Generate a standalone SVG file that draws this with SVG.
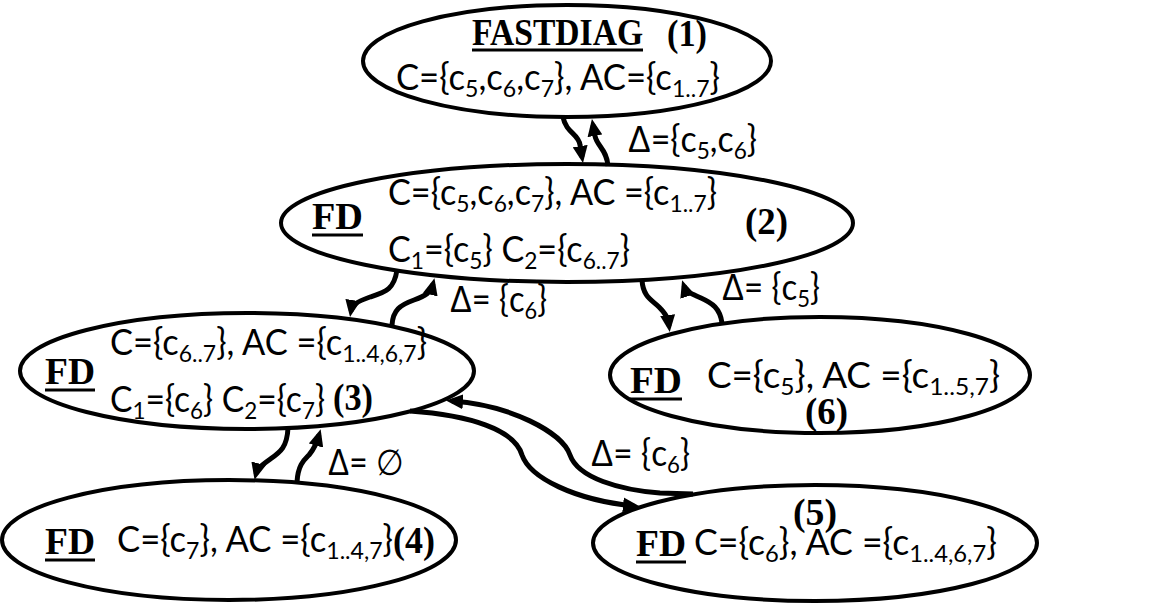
<svg xmlns="http://www.w3.org/2000/svg" width="1163" height="611" viewBox="0 0 1163 611">
<style>
.e{fill:#fff;stroke:#000;stroke-width:4}
.t{font-family:Lato,"Liberation Sans",sans-serif;font-size:36px;fill:#000}
.s{font-size:24px}
.b{font-family:"Liberation Serif",serif;font-weight:bold;font-size:38px;fill:#000}
.u{stroke:#000;stroke-width:3}
.a{fill:none;stroke:#000;stroke-width:5}
.g{font-family:"Liberation Sans",sans-serif;font-weight:normal}
</style>
<defs>
<marker id="ah" markerUnits="userSpaceOnUse" markerWidth="17" markerHeight="15" refX="11" refY="7.5" orient="auto">
<path d="M0,0 L17,7.5 L0,15 z" fill="#000"/>
</marker>
</defs>
<rect width="1163" height="611" fill="#fff"/>

<g id="node1">
<ellipse class="e" cx="567" cy="61" rx="204" ry="56"/>
<text class="b" x="472" y="45" textLength="171" lengthAdjust="spacingAndGlyphs" font-size="34">FASTDIAG</text>
<line class="u" x1="472" y1="50" x2="643" y2="50"/>
<text class="b" x="667" y="46" textLength="40" lengthAdjust="spacingAndGlyphs">(1)</text>
<text class="t" x="396" y="90" textLength="324" lengthAdjust="spacingAndGlyphs">C={c<tspan class="s" dy="7">5</tspan><tspan dy="-7">,c</tspan><tspan class="s" dy="7">6</tspan><tspan dy="-7">,c</tspan><tspan class="s" dy="7">7</tspan><tspan dy="-7">}, AC={c</tspan><tspan class="s" dy="7">1..7</tspan><tspan dy="-7">}</tspan></text>
</g>

<g id="node2">
<ellipse class="e" cx="567" cy="223" rx="286" ry="59"/>
<text class="t" x="388" y="205" textLength="329" lengthAdjust="spacingAndGlyphs">C={c<tspan class="s" dy="7">5</tspan><tspan dy="-7">,c</tspan><tspan class="s" dy="7">6</tspan><tspan dy="-7">,c</tspan><tspan class="s" dy="7">7</tspan><tspan dy="-7">}, AC ={c</tspan><tspan class="s" dy="7">1..7</tspan><tspan dy="-7">}</tspan></text>
<text class="b" x="312" y="229" textLength="51" lengthAdjust="spacingAndGlyphs">FD</text>
<line class="u" x1="312" y1="235" x2="363" y2="235"/>
<text class="t" x="388" y="262" textLength="242" lengthAdjust="spacingAndGlyphs">C<tspan class="s" dy="7">1</tspan><tspan dy="-7">={c</tspan><tspan class="s" dy="7">5</tspan><tspan dy="-7">} C</tspan><tspan class="s" dy="7">2</tspan><tspan dy="-7">={c</tspan><tspan class="s" dy="7">6..7</tspan><tspan dy="-7">}</tspan></text>
<text class="b" x="745" y="234" textLength="43" lengthAdjust="spacingAndGlyphs">(2)</text>
</g>

<g id="node3">
<ellipse class="e" cx="247" cy="371" rx="227" ry="58"/>
<text class="t" x="110" y="355" textLength="317" lengthAdjust="spacingAndGlyphs">C={c<tspan class="s" dy="7">6..7</tspan><tspan dy="-7">}, AC ={c</tspan><tspan class="s" dy="7">1..4,6,7</tspan><tspan dy="-7">}</tspan></text>
<text class="b" x="45" y="384" textLength="50" lengthAdjust="spacingAndGlyphs">FD</text>
<line class="u" x1="45" y1="390" x2="95" y2="390"/>
<text class="t" x="110" y="412" textLength="215" lengthAdjust="spacingAndGlyphs">C<tspan class="s" dy="7">1</tspan><tspan dy="-7">={c</tspan><tspan class="s" dy="7">6</tspan><tspan dy="-7">} C</tspan><tspan class="s" dy="7">2</tspan><tspan dy="-7">={c</tspan><tspan class="s" dy="7">7</tspan><tspan dy="-7">}</tspan></text>
<text class="b" x="333" y="410" textLength="40" lengthAdjust="spacingAndGlyphs">(3)</text>
</g>

<g id="node4">
<ellipse class="e" cx="229" cy="540" rx="227" ry="60"/>
<text class="b" x="45" y="554" textLength="50" lengthAdjust="spacingAndGlyphs">FD</text>
<line class="u" x1="45" y1="560" x2="95" y2="560"/>
<text class="t" x="117" y="552" textLength="276" lengthAdjust="spacingAndGlyphs">C={c<tspan class="s" dy="7">7</tspan><tspan dy="-7">}, AC ={c</tspan><tspan class="s" dy="7">1..4,7</tspan><tspan dy="-7">}</tspan></text>
<text class="b" x="393" y="553" textLength="42" lengthAdjust="spacingAndGlyphs">(4)</text>
</g>

<g id="node5">
<ellipse class="e" cx="815" cy="543" rx="222" ry="58"/>
<text class="b" x="636" y="556" textLength="50" lengthAdjust="spacingAndGlyphs">FD</text>
<line class="u" x1="636" y1="562" x2="686" y2="562"/>
<text class="t" x="694" y="555" textLength="303" lengthAdjust="spacingAndGlyphs">C={c<tspan class="s" dy="7">6</tspan><tspan dy="-7">}, AC ={c</tspan><tspan class="s" dy="7">1..4,6,7</tspan><tspan dy="-7">}</tspan></text>
<text class="b" x="793" y="525" textLength="44" lengthAdjust="spacingAndGlyphs">(5)</text>
</g>

<g id="node6">
<ellipse class="e" cx="820" cy="375" rx="210" ry="58"/>
<text class="b" x="630" y="393" textLength="52" lengthAdjust="spacingAndGlyphs">FD</text>
<line class="u" x1="630" y1="399" x2="682" y2="399"/>
<text class="t" x="707" y="388" textLength="293" lengthAdjust="spacingAndGlyphs">C={c<tspan class="s" dy="7">5</tspan><tspan dy="-7">}, AC ={c</tspan><tspan class="s" dy="7">1..5,7</tspan><tspan dy="-7">}</tspan></text>
<text class="b" x="805" y="424" textLength="43" lengthAdjust="spacingAndGlyphs">(6)</text>
</g>

<g id="connectors">
<path class="a" marker-end="url(#ah)" d="M563,117 C566,133 579,134 580,145 L582,157"/>
<path class="a" marker-end="url(#ah)" d="M608,166 C607,150 597,146 595,136 L593,125"/>
<path class="a" marker-end="url(#ah)" d="M397,270 C394,290 385,292 370,297 C356,302 352,305 351,311"/>
<path class="a" marker-end="url(#ah)" d="M392,325 C393,310 400,305 414,300 C426,296 431,292 433,284"/>
<path class="a" marker-end="url(#ah)" d="M642,280 C643,297 652,300 659,307 C666,314 668,318 669,326"/>
<path class="a" marker-end="url(#ah)" d="M722,323 C720,308 712,303 701,298 C690,293 686,292 684,286"/>
<path class="a" marker-end="url(#ah)" d="M288,428 C287,448 280,452 269,460 C259,467 257,470 256,474"/>
<path class="a" marker-end="url(#ah)" d="M297,482 C298,465 304,460 309,455 C315,448 317,442 319,435"/>
<path class="a" marker-end="url(#ah)" d="M410,411 C470,415 515,430 522,455 C530,478 575,500 634,506"/>
<path class="a" marker-end="url(#ah)" d="M693,494 L660,493 C620,490 578,478 570,455 C562,432 510,405 452,401"/>
<text class="t" x="628" y="152" textLength="129" lengthAdjust="spacingAndGlyphs"><tspan class="g">Δ</tspan>={c<tspan class="s" dy="7">5</tspan><tspan dy="-7">,c</tspan><tspan class="s" dy="7">6</tspan><tspan dy="-7">}</tspan></text>
<text class="t" x="450" y="312" textLength="97" lengthAdjust="spacingAndGlyphs"><tspan class="g">Δ</tspan>= {c<tspan class="s" dy="7">6</tspan><tspan dy="-7">}</tspan></text>
<text class="t" x="722" y="300" textLength="98" lengthAdjust="spacingAndGlyphs"><tspan class="g">Δ</tspan>= {c<tspan class="s" dy="7">5</tspan><tspan dy="-7">}</tspan></text>
<text class="t" x="328" y="475" textLength="75" lengthAdjust="spacingAndGlyphs"><tspan class="g">Δ</tspan>= <tspan class="g">∅</tspan></text>
<text class="t" x="591" y="466" textLength="99" lengthAdjust="spacingAndGlyphs"><tspan class="g">Δ</tspan>= {c<tspan class="s" dy="7">6</tspan><tspan dy="-7">}</tspan></text>
</g>
</svg>
